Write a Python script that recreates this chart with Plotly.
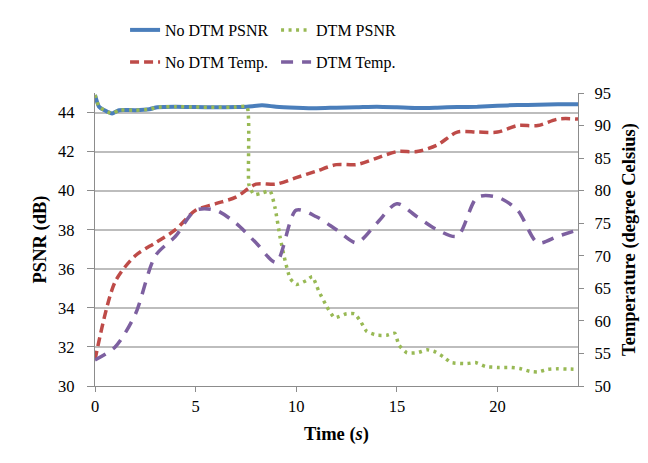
import plotly.graph_objects as go

# PSNR series (left axis, dB)
psnr_time = [0, 0.2, 0.5, 0.85, 1.2, 2.0, 2.7, 3.1, 4, 5, 6, 7, 7.55, 8.3, 9, 10, 11,
             12, 13, 14, 15, 16, 17, 18, 19, 20, 21, 22, 23, 24]
no_dtm_psnr = [44.9, 44.3, 44.1, 43.95, 44.12, 44.12, 44.17, 44.27, 44.3, 44.28, 44.27,
               44.28, 44.3, 44.37, 44.3, 44.25, 44.22, 44.25, 44.27, 44.3, 44.27, 44.23,
               44.25, 44.28, 44.3, 44.35, 44.38, 44.4, 44.42, 44.42]

dtm_time = [0, 0.2, 0.5, 0.85, 1.2, 2.0, 2.7, 3.1, 4, 5, 6, 7, 7.55, 7.65, 7.9, 8.2,
            8.7, 8.95, 9.2, 9.45, 9.7, 10.0, 10.5, 10.8, 11.1, 11.5, 11.9, 12.5, 12.9,
            13.2, 13.5, 14.0, 14.5, 14.9, 15.1, 15.5, 16.0, 16.5, 16.9, 17.3, 17.7,
            18.5, 18.9, 19.4, 20.0, 20.6, 21.1, 21.6, 22.0, 22.5, 23.0, 23.5, 24]
dtm_psnr = [44.9, 44.3, 44.1, 43.95, 44.12, 44.12, 44.17, 44.27, 44.3, 44.28, 44.27,
            44.28, 44.3, 40.3, 39.8, 39.85, 39.98, 39.1, 37.6, 36.4, 35.5, 35.2, 35.4,
            35.6, 34.9, 34.1, 33.5, 33.7, 33.7, 33.3, 32.8, 32.6, 32.6, 32.7, 32.1,
            31.7, 31.7, 31.85, 31.75, 31.5, 31.2, 31.15, 31.2, 31.0, 30.95, 30.95,
            30.9, 30.75, 30.72, 30.85, 30.88, 30.87, 30.85]

# Temperature series (right axis, degree Celsius), one sample per second
temp_time = list(range(25))
no_dtm_temp = [54, 66, 70, 72, 74, 77, 78, 79, 81, 81, 82, 83, 84, 84, 85, 86, 86, 87,
               89, 89, 89, 90, 90, 91, 91]
dtm_temp = [54, 56, 61, 70, 73, 77, 77, 75, 72, 69, 77, 76, 74, 72, 75, 78, 76, 74, 73,
            79, 79, 77, 72, 73, 74]

FONT = "Liberation Serif, DejaVu Serif, serif"
AXIS_GRAY = "#8C8C8C"
GRID_GRAY = "#BDBDBD"

fig = go.Figure()

fig.add_trace(go.Scatter(
    x=psnr_time, y=no_dtm_psnr, name="No DTM PSNR", mode="lines",
    line=dict(color="#4A7EBB", width=4, shape="spline", smoothing=0.6),
    legend="legend"))
fig.add_trace(go.Scatter(
    x=dtm_time, y=dtm_psnr, name="DTM PSNR", mode="lines",
    line=dict(color="#98B954", width=3.5, dash="3px,4.5px", shape="spline", smoothing=0.5),
    legend="legend"))
fig.add_trace(go.Scatter(
    x=temp_time, y=no_dtm_temp, name="No DTM Temp.", mode="lines", yaxis="y2",
    line=dict(color="#BE4B48", width=3.5, dash="9px,5px", shape="spline", smoothing=0.8),
    legend="legend2"))
fig.add_trace(go.Scatter(
    x=temp_time, y=dtm_temp, name="DTM Temp.", mode="lines", yaxis="y2",
    line=dict(color="#7D60A0", width=3.5, dash="12px,9px", shape="spline", smoothing=0.8),
    legend="legend2"))

legend_common = dict(
    orientation="h", xref="container", yref="container", xanchor="left",
    yanchor="middle", entrywidth=106, entrywidthmode="pixels",
    font=dict(family=FONT, size=16, color="#000000"), bgcolor="rgba(0,0,0,0)",
    tracegroupgap=0, itemclick=False)

fig.update_layout(
    width=648, height=463,
    margin=dict(l=95, r=70, t=93, b=77, autoexpand=False),
    paper_bgcolor="white", plot_bgcolor="white",
    font=dict(family=FONT, size=16, color="#000000"),
    legend=dict(x=0.193, y=1 - 30 / 463, **legend_common),
    legend2=dict(x=0.193, y=1 - 62 / 463, **legend_common),
    xaxis=dict(
        range=[0, 24], tick0=0, dtick=5, showgrid=False, zeroline=False,
        showline=True, linecolor=AXIS_GRAY, linewidth=1.3,
        ticks="outside", ticklen=5, tickcolor=AXIS_GRAY, tickwidth=1.3,
        tickfont=dict(family=FONT, size=16.5),
        title=dict(text="<b>Time (<i>s</i>)</b>", font=dict(family=FONT, size=18.5),
                   standoff=12)),
    yaxis=dict(
        range=[30, 45], tick0=30, dtick=2, showgrid=True, gridcolor=GRID_GRAY,
        gridwidth=1.6, zeroline=False, showline=True, linecolor=AXIS_GRAY,
        linewidth=1.3, ticks="outside", ticklen=7, tickcolor=AXIS_GRAY, tickwidth=1.3,
        tickfont=dict(family=FONT, size=16.5), ticklabelstandoff=9,
        title=dict(text="<b>PSNR (dB)</b>", font=dict(family=FONT, size=18.5),
                   standoff=6)),
    yaxis2=dict(
        range=[50, 95], tick0=50, dtick=5, overlaying="y", side="right",
        showgrid=False, zeroline=False, showline=True, linecolor=AXIS_GRAY,
        linewidth=1.3, ticks="outside", ticklen=5, tickcolor=AXIS_GRAY, tickwidth=1.3,
        tickfont=dict(family=FONT, size=16.5), ticklabelstandoff=7,
        title=dict(text="<b>Temperature (degree Celsius)</b>",
                   font=dict(family=FONT, size=18.5), standoff=12)),
)

fig.write_html("out.html")
